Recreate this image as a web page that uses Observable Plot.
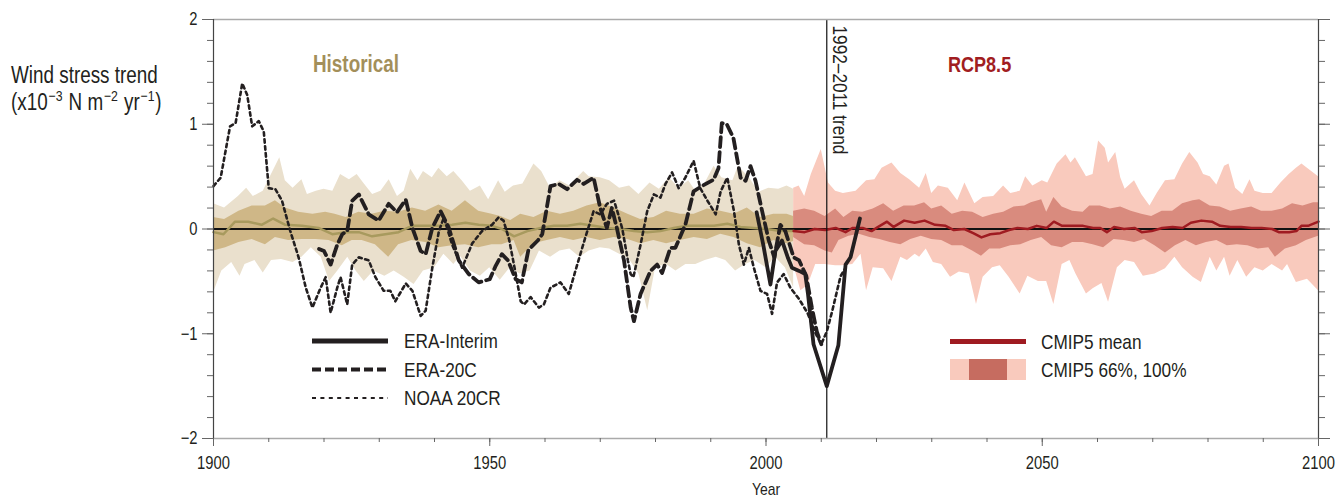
<!DOCTYPE html>
<html>
<head>
<meta charset="utf-8">
<script src="https://cdn.jsdelivr.net/npm/d3@7"></script>
<script src="https://cdn.jsdelivr.net/npm/@observablehq/plot@0.6"></script>
<style>
  html, body { margin: 0; padding: 0; background: #fff; }
  #wrap { position: relative; width: 1344px; height: 497px; overflow: hidden; }
</style>
</head>
<body>
<div id="wrap"></div>
<script>
const FONT = '"Liberation Sans Narrow", "Arial Narrow", "Liberation Sans", Arial, sans-serif';
const NARROW = 0.82;

// ---------- data (year, value in 10^-3 N m^-2 yr^-1) ----------
const yTickLabels = [-2, -1, 0, 1, 2];
const xTickLabels = [1900, 1950, 2000, 2050, 2100];
const trendYear = [2011];

const histUp100 = [[1900,0.24],[1902,0.20],[1904.5,0.31],[1906,0.39],[1907.2,0.31],[1909,0.36],[1910.2,0.49],[1912,0.68],[1913,0.46],[1914.4,0.39],[1916,0.47],[1917,0.33],[1918.6,0.36],[1920,0.38],[1921.6,0.36],[1923,0.52],[1924.6,0.47],[1926,0.52],[1927.3,0.43],[1928.8,0.33],[1930.3,0.36],[1931.8,0.47],[1933.3,0.31],[1934.5,0.36],[1935.7,0.57],[1937,0.46],[1938,0.55],[1939.6,0.49],[1940.8,0.58],[1942.3,0.50],[1943.5,0.55],[1945,0.46],[1946.5,0.36],[1948.3,0.41],[1949.8,0.28],[1951.6,0.46],[1952.8,0.35],[1954.3,0.41],[1956,0.43],[1958,0.62],[1959.4,0.55],[1961,0.39],[1962.7,0.46],[1964.5,0.41],[1967,0.55],[1968,0.50],[1970,0.49],[1971.7,0.46],[1973.5,0.39],[1975.3,0.41],[1977,0.33],[1979,0.44],[1980.7,0.38],[1982.5,0.49],[1984.3,0.39],[1986,0.46],[1987.3,0.36],[1989,0.44],[1990.6,0.60],[1992,0.49],[1994,0.46],[1995,0.60],[1997,0.49],[1998.7,0.35],[2000.5,0.39],[2002.3,0.38],[2003.8,0.41],[2005,0.38]];
const histLow100 = [[1900,-0.61],[1901.5,-0.40],[1903.3,-0.32],[1904.8,-0.45],[1905.7,-0.34],[1907.5,-0.30],[1909,-0.42],[1910.5,-0.30],[1912.3,-0.29],[1914.4,-0.32],[1916,-0.27],[1917.7,-0.18],[1919.5,-0.27],[1921,-0.50],[1922.5,-0.40],[1924.3,-0.27],[1925.8,-0.40],[1927.3,-0.50],[1929,-0.40],[1931,-0.45],[1932.7,-0.40],[1934.5,-0.46],[1936.3,-0.53],[1938,-0.40],[1940,-0.37],[1941.7,-0.24],[1943.5,-0.34],[1944.7,-0.26],[1946.5,-0.40],[1948.3,-0.45],[1950,-0.37],[1951.9,-0.49],[1953.7,-0.37],[1955.5,-0.43],[1957.3,-0.40],[1959,-0.21],[1961,-0.27],[1962.7,-0.21],[1964.5,-0.19],[1966.3,-0.27],[1968,-0.21],[1970,-0.18],[1971.7,-0.19],[1973.5,-0.24],[1975.3,-0.29],[1977,-0.43],[1978.6,-0.78],[1980,-0.37],[1982,-0.34],[1983.7,-0.40],[1985.5,-0.34],[1987.3,-0.34],[1989,-0.30],[1991,-0.27],[1992.7,-0.30],[1994.5,-0.40],[1996.3,-0.34],[1998,-0.30],[2000,-0.37],[2001.7,-0.27],[2003.5,-0.37],[2005,-0.56]];
const histUp66 = [[1900,0.11],[1902,0.09],[1904.6,0.17],[1907,0.22],[1909.4,0.22],[1911.2,0.27],[1913,0.20],[1915.4,0.16],[1918,0.14],[1920.3,0.16],[1922,0.14],[1924,0.11],[1926.3,0.16],[1928.7,0.14],[1931,0.17],[1933.5,0.16],[1936,0.20],[1938.4,0.17],[1940.8,0.23],[1943.2,0.17],[1945.6,0.27],[1948,0.17],[1950.4,0.14],[1952,0.12],[1953.8,0.08],[1955.6,0.14],[1958,0.11],[1960.4,0.17],[1962.8,0.14],[1965.2,0.17],[1967.6,0.22],[1970,0.25],[1972.5,0.20],[1975,0.14],[1977.3,0.09],[1979.7,0.11],[1982,0.17],[1984.5,0.14],[1987,0.14],[1989.4,0.19],[1991.8,0.17],[1994.2,0.14],[1996.6,0.20],[1999,0.11],[2001.4,0.14],[2003.8,0.14],[2005,0.12]];
const histLow66 = [[1900,-0.21],[1902.2,-0.18],[1904.6,-0.13],[1907,-0.10],[1909.4,-0.15],[1911.2,-0.08],[1913.6,-0.11],[1916,-0.10],[1918.5,-0.10],[1920.9,-0.11],[1923.3,-0.16],[1925.1,-0.11],[1926.9,-0.11],[1929.3,-0.15],[1931.7,-0.27],[1933.5,-0.15],[1935.9,-0.11],[1938.4,-0.13],[1940.8,-0.18],[1943.2,-0.16],[1945.6,-0.15],[1948,-0.18],[1950.4,-0.15],[1952.2,-0.15],[1954.4,-0.11],[1955.6,-0.27],[1958,-0.14],[1960.4,-0.11],[1962.8,-0.08],[1965.2,-0.11],[1967.6,-0.08],[1970,-0.11],[1972.5,-0.08],[1975,-0.10],[1977.3,-0.14],[1979.7,-0.11],[1982,-0.14],[1984.5,-0.11],[1987,-0.08],[1989.4,-0.10],[1991.8,-0.05],[1994.2,-0.08],[1996.6,-0.14],[1999,-0.18],[2001.4,-0.11],[2003.8,-0.14],[2005,-0.12]];
const histMean = [[1900,-0.03],[1901.8,-0.05],[1903.9,0.07],[1906.3,0.07],[1908.7,0.04],[1910.8,0.10],[1913,0.04],[1916,0.03],[1919,0.01],[1921.5,-0.05],[1923.9,-0.03],[1926.3,-0.03],[1928.7,-0.07],[1931.1,-0.05],[1933.5,-0.03],[1935.9,0.03],[1938.4,0.03],[1940.8,0.03],[1943.2,0.04],[1945.6,0.06],[1948,0.04],[1950.4,0.03],[1952.2,0.00],[1954.4,-0.07],[1956.8,-0.02],[1959.2,0.01],[1961.6,0.03],[1964,0.03],[1966.4,0.05],[1968.8,0.03],[1971.3,0.01],[1973.7,0.00],[1976.1,-0.02],[1978.5,-0.03],[1980.9,-0.02],[1983.3,0.01],[1985.7,0.03],[1988.1,0.03],[1990.6,0.03],[1993,0.05],[1995.4,0.02],[1997.8,0.01],[2000.2,0.00],[2002.6,-0.02],[2005,-0.02]];

const rcpUp100 = [[2005,0.39],[2006,0.41],[2007,0.31],[2008.2,0.52],[2010,0.76],[2011.3,0.44],[2012.6,0.36],[2014,0.34],[2016.3,0.36],[2018.2,0.46],[2019.7,0.47],[2021,0.58],[2022.8,0.63],[2024.4,0.53],[2026,0.47],[2027.8,0.39],[2029,0.53],[2030,0.34],[2031.2,0.41],[2033,0.39],[2034.7,0.27],[2036,0.44],[2037.8,0.24],[2039.3,0.30],[2041.2,0.31],[2043,0.41],[2044.3,0.34],[2046,0.36],[2047,0.50],[2048.3,0.41],[2050,0.46],[2051,0.44],[2052.7,0.62],[2054.3,0.71],[2055.2,0.63],[2056,0.68],[2058,0.50],[2059.2,0.52],[2060.2,0.84],[2061.4,0.77],[2062,0.63],[2063.3,0.73],[2064.2,0.49],[2065,0.38],[2066.7,0.46],[2068,0.33],[2069.5,0.22],[2070.8,0.34],[2072.3,0.46],[2074,0.47],[2075.4,0.62],[2076.7,0.73],[2078.2,0.63],[2079.2,0.52],[2080.4,0.50],[2081.6,0.42],[2083,0.60],[2083.8,0.62],[2085,0.39],[2086.3,0.33],[2087.6,0.47],[2088.5,0.36],[2090,0.34],[2091.6,0.34],[2093.2,0.44],[2094.7,0.52],[2096,0.58],[2097,0.62],[2098,0.58],[2100,0.50]];
const rcpLow100 = [[2005,-0.34],[2006.3,-0.59],[2007.6,-0.54],[2009,-0.34],[2010.7,-0.34],[2012.6,-0.35],[2013.8,-0.35],[2015.7,-0.34],[2017.2,-0.24],[2018.2,-0.59],[2019.4,-0.37],[2021.3,-0.38],[2022.8,-0.50],[2024.4,-0.27],[2025.6,-0.30],[2027,-0.24],[2027.8,-0.27],[2029,-0.19],[2030.3,-0.32],[2031.8,-0.34],[2033.4,-0.46],[2035,-0.41],[2036.8,-0.43],[2038.1,-0.72],[2039.3,-0.46],[2041,-0.37],[2042.4,-0.35],[2044,-0.46],[2046,-0.62],[2047.4,-0.45],[2049.3,-0.50],[2050.8,-0.50],[2052.1,-0.72],[2053.6,-0.34],[2055,-0.30],[2056.1,-0.43],[2058,-0.62],[2059.2,-0.57],[2060.8,-0.52],[2062,-0.70],[2063.6,-0.37],[2065,-0.30],[2066.7,-0.32],[2068.3,-0.45],[2070.4,-0.43],[2072.3,-0.38],[2074,-0.27],[2075.4,-0.37],[2077.3,-0.46],[2078.8,-0.51],[2080.4,-0.27],[2081.6,-0.40],[2083,-0.27],[2084,-0.45],[2085.4,-0.30],[2087,-0.46],[2088.5,-0.37],[2090,-0.40],[2091.6,-0.34],[2093.5,-0.40],[2094.4,-0.34],[2096,-0.51],[2098,-0.48],[2100,-0.59]];
const rcpUp66 = [[2005,0.17],[2007,0.19],[2008.8,0.17],[2010.7,0.12],[2012.6,0.19],[2014.1,0.11],[2015.7,0.17],[2017.5,0.16],[2019.4,0.19],[2021.3,0.24],[2023.1,0.17],[2025,0.22],[2026.9,0.22],[2028.7,0.25],[2030,0.19],[2031.8,0.22],[2033.7,0.14],[2035.6,0.17],[2037.4,0.16],[2039.3,0.11],[2041.2,0.14],[2043,0.16],[2044.9,0.21],[2046.8,0.22],[2048,0.25],[2049.9,0.28],[2050.8,0.16],[2052.1,0.30],[2053.6,0.21],[2055.5,0.17],[2057.4,0.16],[2058.6,0.22],[2060.5,0.22],[2062.3,0.19],[2064.2,0.21],[2066.1,0.17],[2068,0.14],[2069.8,0.12],[2071.7,0.17],[2073.6,0.17],[2075.4,0.24],[2077.3,0.27],[2078.5,0.28],[2080.4,0.22],[2082.2,0.21],[2084.1,0.17],[2086,0.19],[2087.9,0.21],[2089.7,0.17],[2091.6,0.17],[2093.5,0.19],[2095.3,0.24],[2097.2,0.22],[2099.1,0.25],[2100,0.25]];
const rcpLow66 = [[2005,-0.08],[2007,-0.15],[2008.8,-0.16],[2010.7,-0.21],[2012,-0.23],[2013.2,-0.11],[2015,-0.07],[2016.9,-0.05],[2018.8,-0.08],[2020.6,-0.10],[2022.5,-0.13],[2024.4,-0.15],[2026.2,-0.10],[2028.1,-0.07],[2030,-0.10],[2031.8,-0.11],[2033.7,-0.16],[2035.6,-0.16],[2037.4,-0.21],[2039,-0.26],[2040.5,-0.19],[2042.4,-0.19],[2044.3,-0.16],[2046.1,-0.15],[2048,-0.11],[2049.9,-0.08],[2051.7,-0.16],[2053.6,-0.18],[2055.5,-0.13],[2057.4,-0.13],[2059.2,-0.15],[2061.1,-0.18],[2063,-0.10],[2064.8,-0.11],[2066.7,-0.13],[2068.5,-0.10],[2070.4,-0.16],[2072.3,-0.23],[2074.1,-0.16],[2076,-0.11],[2077.9,-0.16],[2079.7,-0.13],[2081.6,-0.11],[2083.5,-0.16],[2085.3,-0.15],[2087.2,-0.16],[2089.1,-0.19],[2091,-0.18],[2092.2,-0.27],[2094,-0.19],[2096,-0.16],[2097.8,-0.11],[2100,-0.07]];
const rcpMean = [[2005,-0.02],[2007,-0.03],[2008.8,0.00],[2010.7,-0.01],[2012.6,0.01],[2014.4,-0.03],[2015.7,0.01],[2017.5,0.01],[2019.1,-0.02],[2020.3,0.02],[2021.9,0.07],[2023.1,0.02],[2025,0.08],[2026.9,0.06],[2028.7,0.08],[2030.6,0.04],[2032.5,0.03],[2034,-0.01],[2035.9,0.00],[2037.5,-0.04],[2039,-0.08],[2040.6,-0.05],[2042.4,-0.04],[2044,-0.01],[2045.5,0.01],[2047.4,0.00],[2049,0.03],[2050.8,0.01],[2052.1,0.07],[2053.6,0.03],[2055.5,0.03],[2057.4,0.03],[2059.2,0.01],[2060.5,0.01],[2061.7,-0.03],[2063,0.02],[2064.8,0.00],[2066.7,0.01],[2068,-0.03],[2069.8,-0.02],[2071.7,0.01],[2073.6,0.02],[2075.4,0.01],[2076.9,0.06],[2078.8,0.08],[2080.7,0.07],[2082.2,0.03],[2084.1,0.02],[2086,0.02],[2087.9,0.01],[2089.7,0.01],[2091.6,0.00],[2092.8,-0.03],[2094.7,-0.03],[2096,-0.02],[2096.9,0.03],[2098.1,0.03],[2100,0.07]];

const eraInterim = [[1998.3,0.16],[1999.5,-0.15],[2000.8,-0.53],[2001.7,-0.21],[2002.9,-0.11],[2004,-0.28],[2004.7,-0.37],[2006,-0.40],[2007.1,-0.43],[2007.6,-0.62],[2008.6,-1.10],[2011,-1.50],[2013.1,-1.11],[2014.4,-0.34],[2015.3,-0.27],[2017,0.10]];
const era20c = [[1919.1,-0.19],[1920,-0.21],[1921.2,-0.34],[1922.4,-0.15],[1923.3,-0.05],[1924.2,-0.02],[1925.1,0.27],[1926.3,0.33],[1928.1,0.14],[1929.9,0.08],[1931.7,0.24],[1933.2,0.16],[1934.8,0.28],[1936,0.01],[1937.5,-0.21],[1938.4,-0.24],[1939.6,0.01],[1941.1,0.17],[1942.6,0.01],[1944.4,-0.30],[1946.2,-0.43],[1948,-0.51],[1950,-0.48],[1951,-0.36],[1952.2,-0.24],[1953.3,-0.30],[1954.7,-0.48],[1955.8,-0.51],[1957,-0.20],[1958.7,-0.11],[1959.5,-0.05],[1961,0.41],[1962.5,0.43],[1964,0.38],[1965.8,0.47],[1967,0.43],[1968.8,0.49],[1970,0.20],[1971.2,0.01],[1972.1,0.20],[1973,0.01],[1974.3,-0.30],[1975.5,-0.75],[1976.1,-0.88],[1977.3,-0.62],[1979.1,-0.40],[1980.3,-0.34],[1981.2,-0.42],[1982.7,-0.18],[1983.6,-0.18],[1985.4,0.04],[1986.9,0.36],[1988.4,0.41],[1990.5,0.47],[1991.4,0.58],[1992,1.01],[1992.9,1.00],[1994.1,0.87],[1995.4,0.49],[1996.3,0.46],[1997.2,0.60],[1998.1,0.46],[1999.3,0.17],[2000.5,-0.11],[2001.5,-0.27],[2002.6,0.04],[2003.5,-0.02],[2005,-0.27],[2006,-0.30],[2007.3,-0.45],[2008.3,-0.75],[2009.2,-0.98],[2010,-1.10]];
const noaa20cr = [[1900,0.41],[1901.3,0.49],[1903,0.98],[1904,1.01],[1905.2,1.39],[1906.1,1.28],[1907,0.98],[1908.2,1.03],[1909.1,0.93],[1910,0.39],[1911.2,0.38],[1912.4,0.27],[1913.9,-0.02],[1915.4,-0.27],[1916.7,-0.56],[1917.9,-0.75],[1919.4,-0.56],[1920.3,-0.46],[1921.2,-0.80],[1922.4,-0.56],[1923,-0.46],[1924.2,-0.72],[1925.1,-0.34],[1926.3,-0.27],[1928.1,-0.30],[1929.3,-0.46],[1930.8,-0.59],[1932,-0.59],[1932.9,-0.69],[1934.8,-0.52],[1936,-0.59],[1937.5,-0.83],[1938.4,-0.78],[1939.6,-0.37],[1940.8,-0.02],[1941.7,0.11],[1943.2,-0.15],[1945,-0.37],[1946.8,-0.14],[1948.6,-0.02],[1950.4,0.04],[1951.6,0.11],[1952.5,0.08],[1953.5,-0.10],[1954.6,-0.40],[1955.6,-0.69],[1956.2,-0.72],[1957.4,-0.65],[1958.9,-0.75],[1959.8,-0.72],[1961,-0.56],[1962.8,-0.51],[1964.3,-0.62],[1965.5,-0.40],[1967.3,-0.08],[1968.8,0.17],[1970,0.14],[1971.2,0.24],[1972.5,0.27],[1973.2,0.15],[1974,0.00],[1975,-0.30],[1975.5,-0.43],[1976,-0.46],[1977.3,-0.15],[1978.5,0.17],[1979.7,0.33],[1980.9,0.30],[1981.8,0.43],[1983,0.54],[1984.2,0.39],[1985.4,0.49],[1986.9,0.65],[1988.1,0.39],[1989.4,0.27],[1990.9,0.14],[1991.8,0.36],[1993,0.49],[1994.2,0.17],[1995.1,-0.15],[1996,-0.34],[1996.9,-0.18],[1997.8,-0.37],[1999,-0.59],[2000.2,-0.62],[2001.1,-0.81],[2002,-0.51],[2003.2,-0.43],[2004.4,-0.56],[2006,-0.67],[2007.5,-0.80],[2009,-1.00],[2010,-1.10],[2011,-0.98],[2012,-0.78],[2013.5,-0.45],[2014.3,-0.38]];

// ---------- styles ----------
const C = {
  histLight: "#eae0cd", histDark: "#cfb787", histMean: "#a89a5e",
  rcpLight: "#f9cabd", rcpDark: "#d98b7e", rcpMean: "#9f1b21", rcpLegendDark: "#c66c60",
  ink: "#231f20", frame: "#aaaaaa", axis: "#444444", tick: "#666666"
};
const X = d => d[0], Y = d => d[1], Z = () => 0;
const band = (data, fill) => Plot.areaY(data, {x: X, y1: Z, y2: Y, fill, curve: "linear"});
const minusFmt = d => d < 0 ? "\u2212" + Math.abs(d) : String(d);
const minorY = d3.range(-10, 11).map(i => i / 5);
const minorX = d3.range(1900, 2101, 10);

const chart = Plot.plot({
  width: 1344, height: 497,
  marginLeft: 213, marginRight: 26, marginTop: 19, marginBottom: 59,
  x: {domain: [1900, 2100], axis: null},
  y: {domain: [-2, 2], axis: null},
  style: {fontFamily: FONT, background: "transparent", color: C.ink, overflow: "visible"},
  marks: [
    band(histUp100, C.histLight), band(histLow100, C.histLight),
    band(rcpUp100, C.rcpLight), band(rcpLow100, C.rcpLight),
    band(histUp66, C.histDark), band(histLow66, C.histDark),
    band(rcpUp66, C.rcpDark), band(rcpLow66, C.rcpDark),
    Plot.ruleY([0], {stroke: "#111", strokeWidth: 1.8}),
    Plot.line(histMean, {x: X, y: Y, stroke: C.histMean, strokeWidth: 2.5}),
    Plot.line(rcpMean, {x: X, y: Y, stroke: C.rcpMean, strokeWidth: 2.5}),
    Plot.ruleX(trendYear, {stroke: "#111", strokeWidth: 1.2}),
    Plot.line(noaa20cr, {x: X, y: Y, stroke: C.ink, strokeWidth: 2.6, strokeDasharray: "3.5,3.5"}),
    Plot.line(era20c, {x: X, y: Y, stroke: C.ink, strokeWidth: 3.8, strokeDasharray: "10,5"}),
    Plot.line(eraInterim, {x: X, y: Y, stroke: C.ink, strokeWidth: 3.8}),
    // frame
    Plot.ruleY([-2, 2], {stroke: C.frame, strokeWidth: 1.3}),
    Plot.ruleX([1900, 2100], {stroke: C.axis, strokeWidth: 1.2}),
    // axes
    Plot.axisY({ticks: minorY, tickSize: 6, tickFormat: () => "", stroke: C.tick, label: null}),
    Plot.axisY({ticks: yTickLabels, tickSize: 11, tickPadding: 5, tickFormat: minusFmt, stroke: C.tick, fill: C.ink, fontSize: 18, label: null}),
    Plot.axisY({anchor: "right", ticks: minorY, tickSize: 6, tickFormat: () => "", stroke: C.tick, label: null}),
    Plot.axisY({anchor: "right", ticks: yTickLabels, tickSize: 11, tickFormat: () => "", stroke: C.tick, label: null}),
    Plot.axisX({ticks: minorX, tickSize: 4, tickFormat: () => "", stroke: C.tick, label: null}),
    Plot.axisX({ticks: xTickLabels, tickSize: 8, tickPadding: 10, tickFormat: d => String(d), stroke: C.tick, fill: C.ink, fontSize: 18, label: null}),
    Plot.text(["Year"], {frameAnchor: "bottom", dy: 56, fontSize: 17, fill: C.ink}),
    Plot.text(["1992\u20132011 trend"], {x: trendYear, frameAnchor: "top", rotate: 90, textAnchor: "start", lineAnchor: "middle", dx: 13, dy: 6, fontSize: 21, fill: C.ink})
  ]
});

const wrap = document.getElementById("wrap");
wrap.appendChild(chart);

// ---------- overlay: y label, period labels, legends ----------
const ov = d3.create("svg").attr("width", 1344).attr("height", 497)
  .style("position", "absolute").style("left", "0px").style("top", "0px")
  .style("font-family", FONT).style("pointer-events", "none");
wrap.appendChild(ov.node());

function condense(t) {
  const L = t.getComputedTextLength();
  if (L > 0) {
    t.setAttribute("textLength", (L * NARROW).toFixed(2));
    t.setAttribute("lengthAdjust", "spacingAndGlyphs");
  }
}
function label(x, y, size, fill, weight) {
  return ov.append("text").attr("x", x).attr("y", y).attr("font-size", size)
    .attr("fill", fill || C.ink).attr("font-weight", weight || "normal");
}
label(11, 82.5, 23).text("Wind stress trend");
// unit line: a single text with raised superscripts, condensed by a group transform
const unitG = ov.append("g").attr("transform", `translate(11,110) scale(${NARROW},1)`);
const unit = unitG.append("text").attr("x", 0).attr("y", 0).attr("font-size", 23).attr("fill", C.ink)
  .attr("class", "condensed");
const unitParts = [["(x10", 0], ["\u22123", 1], [" N m", 0], ["\u22122", 1], [" yr", 0], ["\u22121", 1], [")", 0]];
let raised = false;
unitParts.forEach(([t, sup]) => {
  const ts = unit.append("tspan").text(t);
  if (sup) { ts.attr("font-size", 15).attr("dy", -9).attr("dx", 1); raised = true; }
  else if (raised) { ts.attr("dy", 9).attr("dx", 1); raised = false; }
});
label(313, 72, 23, "#a38f5a", "bold").text("Historical");
label(948, 72, 22, "#a11d21", "bold").text("RCP8.5");

const legendLeft = [
  {label: "ERA-Interim", dash: null, w: 5},
  {label: "ERA-20C", dash: "9,4", w: 4},
  {label: "NOAA 20CR", dash: "4,4.4", w: 2.2}
];
const rowsL = [341, 369.5, 398];
legendLeft.forEach((e, i) => {
  ov.append("line").attr("x1", 312).attr("x2", 388).attr("y1", rowsL[i]).attr("y2", rowsL[i])
    .attr("stroke", C.ink).attr("stroke-width", e.w).attr("stroke-dasharray", e.dash);
  label(404, rowsL[i], 21).attr("dy", "0.35em").text(e.label);
});
ov.append("line").attr("x1", 950).attr("x2", 1026).attr("y1", 341.5).attr("y2", 341.5)
  .attr("stroke", C.rcpMean).attr("stroke-width", 5);
label(1041, 341.5, 21).attr("dy", "0.35em").text("CMIP5 mean");
ov.append("rect").attr("x", 950).attr("y", 359).attr("width", 76).attr("height", 21).attr("fill", C.rcpLight);
ov.append("rect").attr("x", 969).attr("y", 359).attr("width", 38).attr("height", 21).attr("fill", C.rcpLegendDark);
label(1041, 369.5, 21).attr("dy", "0.35em").text("CMIP5 66%, 100%");

// condense all remaining text horizontally (narrow typeface look)
wrap.querySelectorAll("svg text").forEach(t => {
  if (!t.classList.contains("condensed")) condense(t);
});
</script>
</body>
</html>
